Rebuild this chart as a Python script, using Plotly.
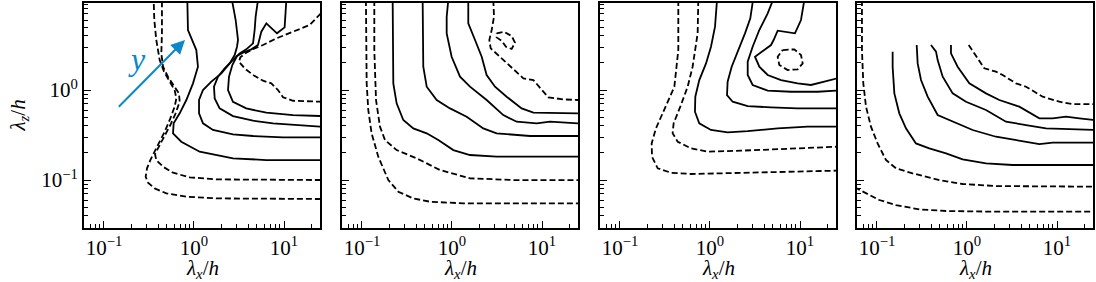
import numpy as np
import plotly.graph_objects as go

# ---------------- data: contour lines, log10(lambda_x/h), log10(lambda_z/h) ----------------
# Panel 1
p1_d1_lx = [1.41, 0.804, 0.248, -0.085, -0.307, -0.437, -0.511, -0.537, -0.522, -0.485, -0.448, -0.389, -0.326, -0.263, -0.215, -0.196, -0.215, -0.270, -0.333, -0.381, -0.419, -0.441, -0.448]
p1_d1_lz = [-1.211, -1.211, -1.204, -1.185, -1.148, -1.093, -1.030, -0.963, -0.870, -0.778, -0.704, -0.593, -0.463, -0.315, -0.185, -0.093, 0.0, 0.093, 0.204, 0.333, 0.556, 0.778, 1.0]
p1_d2_lx = [1.41, 0.804, 0.248, -0.048, -0.233, -0.344, -0.419, -0.433, -0.389, -0.326, -0.263, -0.204, -0.159, -0.167, -0.226, -0.289, -0.344, -0.363, -0.356, -0.356]
p1_d2_lz = [-1.0, -1.0, -0.993, -0.970, -0.919, -0.852, -0.778, -0.711, -0.630, -0.519, -0.389, -0.259, -0.130, -0.037, 0.056, 0.148, 0.259, 0.407, 0.630, 1.0]
p1_s1_lx = [-0.074, -0.067, 0.026, 0.044, -0.011, -0.085, -0.159, -0.226, -0.233, -0.141, 0.063, 0.433, 0.804, 1.41]
p1_s1_lz = [1.0, 0.667, 0.444, 0.259, 0.074, -0.111, -0.259, -0.370, -0.481, -0.574, -0.685, -0.759, -0.778, -0.778]
p1_s2_lx = [1.41, 0.989, 0.656, 0.433, 0.211, 0.100, 0.056, 0.056, 0.100, 0.193, 0.304, 0.396, 0.452, 0.478, 0.489, 0.463, 0.422]
p1_s2_lz = [-0.526, -0.526, -0.511, -0.493, -0.444, -0.370, -0.259, -0.111, 0.0, 0.093, 0.185, 0.296, 0.389, 0.481, 0.556, 0.778, 1.0]
p1_s3_lx = [1.41, 1.174, 0.878, 0.656, 0.433, 0.285, 0.230, 0.222, 0.267, 0.341, 0.433, 0.507, 0.581, 0.656, 0.674, 0.685, 0.711]
p1_s3_lz = [-0.407, -0.393, -0.370, -0.341, -0.289, -0.204, -0.093, 0.037, 0.148, 0.241, 0.333, 0.407, 0.452, 0.519, 0.667, 0.815, 1.0]
p1_s4_lx = [1.41, 1.1, 0.804, 0.581, 0.433, 0.378, 0.389, 0.426, 0.478, 0.544, 0.637, 0.711, 0.748, 0.804, 0.922, 1.007, 1.026]
p1_s4_lz = [-0.289, -0.278, -0.252, -0.204, -0.130, 0.0, 0.148, 0.278, 0.378, 0.415, 0.452, 0.5, 0.648, 0.741, 0.630, 0.696, 1.0]
p1_d3_lx = [1.41, 1.285, 1.1, 0.915, 0.767, 0.674, 0.581, 0.515, 0.5, 0.563, 0.656, 0.767, 0.859, 0.933, 0.989, 1.1, 1.41]
p1_d3_lz = [0.852, 0.722, 0.648, 0.574, 0.5, 0.463, 0.415, 0.363, 0.315, 0.241, 0.167, 0.104, 0.074, 0.0, -0.081, -0.119, -0.130]

# Panel 2
p2_d1_lx = [-0.956, -0.956, -0.948, -0.930, -0.893, -0.819, -0.707, -0.596, -0.430, -0.244, 0.126, 0.867, 1.41]
p2_d1_lz = [1.0, 0.630, 0.074, -0.222, -0.481, -0.741, -1.0, -1.130, -1.204, -1.241, -1.259, -1.259, -1.259]
p2_d2_lx = [-0.863, -0.863, -0.844, -0.8, -0.744, -0.615, -0.393, -0.133, 0.2, 0.681, 1.41]
p2_d2_lz = [1.0, 0.444, -0.111, -0.407, -0.556, -0.667, -0.759, -0.889, -0.981, -1.0, -1.0]
p2_s1_lx = [-0.659, -0.659, -0.652, -0.615, -0.541, -0.430, -0.281, -0.152, 0.015, 0.2, 0.496, 1.41]
p2_s1_lz = [1.0, 0.630, 0.074, -0.148, -0.333, -0.426, -0.481, -0.556, -0.667, -0.722, -0.741, -0.741]
p2_s2_lx = [-0.326, -0.326, -0.319, -0.281, -0.170, -0.022, 0.163, 0.348, 0.496, 0.867, 1.41]
p2_s2_lz = [1.0, 0.630, 0.259, 0.037, -0.111, -0.204, -0.296, -0.426, -0.481, -0.511, -0.511]
p2_s3_lx = [-0.041, -0.059, -0.059, -0.004, 0.089, 0.2, 0.385, 0.570, 0.719, 0.941, 1.089, 1.41]
p2_s3_lz = [1.0, 0.815, 0.630, 0.370, 0.148, 0.037, -0.111, -0.278, -0.352, -0.370, -0.352, -0.370]
p2_s4_lx = [0.181, 0.181, 0.256, 0.330, 0.385, 0.478, 0.607, 0.774, 0.904, 1.41]
p2_s4_lz = [1.0, 0.741, 0.556, 0.370, 0.167, 0.037, -0.074, -0.204, -0.252, -0.259]
p2_d3_lx = [0.459, 0.467, 0.441, 0.415, 0.430, 0.552, 0.663, 0.793, 0.904, 0.978, 1.070, 1.237, 1.41]
p2_d3_lz = [1.0, 0.815, 0.667, 0.556, 0.463, 0.352, 0.259, 0.130, 0.111, 0.030, -0.081, -0.104, -0.111]
p2_d4_lx = [0.496, 0.578, 0.663, 0.7, 0.663, 0.6, 0.552, 0.496, 0.496]
p2_d4_lz = [0.630, 0.648, 0.6, 0.526, 0.456, 0.481, 0.548, 0.585, 0.630]

# Panel 3
p3_d1_lx = [-0.352, -0.352, -0.396, -0.507, -0.6, -0.648, -0.644, -0.581, -0.433, -0.211, 0.159, 1.41]
p3_d1_lz = [1.0, 0.444, 0.037, -0.222, -0.426, -0.593, -0.741, -0.870, -0.919, -0.933, -0.926, -0.896]
p3_d2_lx = [-0.130, -0.137, -0.193, -0.248, -0.330, -0.404, -0.415, -0.359, -0.211, -0.026, 0.344, 0.9, 1.41]
p3_d2_lz = [1.0, 0.630, 0.259, 0.037, -0.185, -0.370, -0.481, -0.574, -0.648, -0.685, -0.674, -0.648, -0.630]
p3_s1_lx = [0.078, 0.056, 0.011, -0.044, -0.119, -0.163, -0.167, -0.119, 0.011, 0.196, 0.419, 0.752, 1.085, 1.41]
p3_s1_lz = [1.0, 0.704, 0.481, 0.296, 0.111, -0.074, -0.241, -0.370, -0.444, -0.470, -0.456, -0.426, -0.407, -0.407]
p3_s2_lx = [0.478, 0.448, 0.389, 0.315, 0.241, 0.196, 0.189, 0.252, 0.419, 0.678, 0.974, 1.41]
p3_s2_lz = [1.0, 0.796, 0.630, 0.444, 0.259, 0.093, -0.056, -0.130, -0.178, -0.193, -0.204, -0.204]
p3_s3_lx = [0.7, 0.641, 0.548, 0.474, 0.419, 0.419, 0.474, 0.641, 0.9, 1.196, 1.41]
p3_s3_lz = [1.0, 0.852, 0.667, 0.481, 0.315, 0.167, 0.056, -0.007, -0.019, -0.019, -0.007]
p3_s4_lx = [1.048, 1.011, 0.944, 0.752, 0.707, 0.678, 0.5, 0.548, 0.641, 0.789, 0.974, 1.122, 1.270, 1.41]
p3_s4_lz = [1.0, 0.778, 0.630, 0.659, 0.556, 0.5, 0.370, 0.259, 0.167, 0.111, 0.074, 0.056, 0.093, 0.130]
p3_d3_lx = [0.807, 0.937, 1.011, 1.030, 0.974, 0.863, 0.770, 0.752, 0.807]
p3_d3_lz = [0.444, 0.452, 0.389, 0.296, 0.230, 0.222, 0.278, 0.370, 0.444]

# Panel 4
p4_d1_lx = [-1.25, -1.122, -0.974, -0.789, -0.530, -0.233, 0.322, 1.41]
p4_d1_lz = [-1.08, -1.148, -1.222, -1.278, -1.326, -1.344, -1.352, -1.352]
p4_d2_lx = [-1.167, -1.167, -1.152, -1.122, -1.067, -0.993, -0.9, -0.789, -0.604, -0.307, -0.048, 0.322, 1.41]
p4_d2_lz = [1.0, 0.444, 0.074, -0.185, -0.407, -0.593, -0.778, -0.870, -0.926, -1.0, -1.044, -1.067, -1.074]
p4_s1_lx = [-0.826, -0.826, -0.807, -0.752, -0.678, -0.567, -0.419, -0.233, -0.048, 0.211, 0.507, 1.41]
p4_s1_lz = [0.426, 0.259, -0.037, -0.259, -0.426, -0.593, -0.648, -0.704, -0.770, -0.815, -0.833, -0.833]
p4_s2_lx = [-0.559, -0.548, -0.511, -0.437, -0.326, -0.159, 0.063, 0.322, 0.619, 0.804, 0.952, 1.41]
p4_s2_lz = [0.5, 0.296, 0.111, -0.074, -0.278, -0.352, -0.444, -0.519, -0.574, -0.6, -0.585, -0.585]
p4_s3_lx = [-0.4, -0.344, -0.326, -0.270, -0.159, -0.011, 0.211, 0.433, 0.656, 0.878, 1.41]
p4_s3_lz = [0.5, 0.426, 0.333, 0.148, -0.037, -0.130, -0.222, -0.352, -0.389, -0.426, -0.444]
p4_s4_lx = [-0.178, -0.178, -0.104, 0.026, 0.211, 0.359, 0.581, 0.804, 0.952, 1.1, 1.248, 1.41]
p4_s4_lz = [0.5, 0.407, 0.259, 0.074, -0.037, -0.111, -0.185, -0.315, -0.315, -0.296, -0.315, -0.333]
p4_d3_lx = [0.019, 0.081, 0.156, 0.193, 0.322, 0.396, 0.544, 0.656, 0.841, 1.026, 1.174, 1.41]
p4_d3_lz = [0.5, 0.407, 0.296, 0.241, 0.204, 0.167, 0.074, 0.037, -0.074, -0.130, -0.156, -0.156]

# tick values
major_vals = [0.1, 1, 10]
major_text = ["10<sup>−1</sup>", "10<sup>0</sup>", "10<sup>1</sup>"]
minor_x = [0.07, 0.08, 0.09, 0.2, 0.3, 0.4, 0.5, 0.6, 0.7, 0.8, 0.9,
           2, 3, 4, 5, 6, 7, 8, 9, 20]
minor_y = [0.03, 0.04, 0.05, 0.06, 0.07, 0.08, 0.09, 0.2, 0.3, 0.4, 0.5,
           0.6, 0.7, 0.8, 0.9, 2, 3, 4, 5, 6, 7, 8, 9]
x_title = "<i>λ</i><sub><i>x</i></sub>/<i>h</i>"
y_title = "<i>λ</i><sub><i>z</i></sub>/<i>h</i>"

panels = [
    [(p1_d1_lx, p1_d1_lz, True), (p1_d2_lx, p1_d2_lz, True), (p1_s1_lx, p1_s1_lz, False),
     (p1_s2_lx, p1_s2_lz, False), (p1_s3_lx, p1_s3_lz, False), (p1_s4_lx, p1_s4_lz, False),
     (p1_d3_lx, p1_d3_lz, True)],
    [(p2_d1_lx, p2_d1_lz, True), (p2_d2_lx, p2_d2_lz, True), (p2_s1_lx, p2_s1_lz, False),
     (p2_s2_lx, p2_s2_lz, False), (p2_s3_lx, p2_s3_lz, False), (p2_s4_lx, p2_s4_lz, False),
     (p2_d3_lx, p2_d3_lz, True), (p2_d4_lx, p2_d4_lz, True)],
    [(p3_d1_lx, p3_d1_lz, True), (p3_d2_lx, p3_d2_lz, True), (p3_s1_lx, p3_s1_lz, False),
     (p3_s2_lx, p3_s2_lz, False), (p3_s3_lx, p3_s3_lz, False), (p3_s4_lx, p3_s4_lz, False),
     (p3_d3_lx, p3_d3_lz, True)],
    [(p4_d1_lx, p4_d1_lz, True), (p4_d2_lx, p4_d2_lz, True), (p4_s1_lx, p4_s1_lz, False),
     (p4_s2_lx, p4_s2_lz, False), (p4_s3_lx, p4_s3_lz, False), (p4_s4_lx, p4_s4_lz, False),
     (p4_d3_lx, p4_d3_lz, True)],
]

FONT = "Liberation Serif"
TICKFONT = dict(family=FONT, size=21, color="black")
TITLEFONT = dict(family=FONT, size=21, color="black")
fig = go.Figure()

W = 1009.0
lefts = [0, 258, 516, 773]
pw = 236

layout_axes = {}
for i, conts in enumerate(panels):
    xa = "x" if i == 0 else f"x{i+1}"
    ya = "y" if i == 0 else f"y{i+1}"
    for lx, lz, dashed in conts:
        fig.add_trace(go.Scatter(
            x=10 ** np.array(lx), y=10 ** np.array(lz), mode="lines",
            line=dict(color="black", width=1.8, dash="6px,3px" if dashed else "solid"),
            xaxis=xa, yaxis=ya, showlegend=False, hoverinfo="skip"))
    kx = "xaxis" if i == 0 else f"xaxis{i+1}"
    ky = "yaxis" if i == 0 else f"yaxis{i+1}"
    dom = [lefts[i] / W, (lefts[i] + pw) / W]
    layout_axes[kx] = dict(
        type="log", range=[-1.222, 1.40], domain=dom, anchor=ya, automargin=False,
        showline=True, linecolor="black", linewidth=2, mirror=True,
        showgrid=False, zeroline=False,
        ticks="inside", ticklen=7, tickwidth=1.2, tickcolor="black",
        tickmode="array", tickvals=major_vals, ticktext=major_text,
        tickfont=TICKFONT,
        minor=dict(ticks="inside", ticklen=4, tickwidth=1, tickcolor="black",
                   tickmode="array", tickvals=minor_x, showgrid=False),
    )
    layout_axes[ky] = dict(
        type="log", range=[-1.533, 0.967], domain=[0, 1], anchor=xa, automargin=False,
        showline=True, linecolor="black", linewidth=2, mirror=True,
        showgrid=False, zeroline=False,
        ticks="inside", ticklen=7, tickwidth=1.2, tickcolor="black",
        tickmode="array", tickvals=major_vals, ticktext=major_text,
        showticklabels=(i == 0),
        tickfont=TICKFONT,
        minor=dict(ticks="inside", ticklen=4, tickwidth=1, tickcolor="black",
                   tickmode="array", tickvals=minor_y, showgrid=False),
    )
    fig.add_annotation(x=(lefts[i] + pw / 2) / W, y=-0.183, xref="paper", yref="paper",
                       text=x_title, showarrow=False, xanchor="center", yanchor="middle",
                       font=TITLEFONT)

fig.add_annotation(x=-66 / W, y=0.5, xref="paper", yref="paper", text=y_title,
                   showarrow=False, textangle=-90, xanchor="center", yanchor="middle",
                   font=TITLEFONT)

BLUE = "#0a88c8"
fig.update_layout(
    width=1096, height=282, margin=dict(l=84, r=3, t=2.5, b=54, autoexpand=False),
    paper_bgcolor="white", plot_bgcolor="white",
    font=dict(family=FONT, size=21, color="black"),
    **layout_axes,
)
fig.add_annotation(x=-0.1, y=0.556, ax=-0.852, ay=-0.203, xref="x", yref="y",
                   axref="x", ayref="y", showarrow=True, arrowhead=2, arrowsize=1.4,
                   arrowwidth=2, arrowcolor=BLUE, text="")
fig.add_annotation(x=-0.633, y=0.35, xref="x", yref="y", showarrow=False,
                   text="<i>y</i>", font=dict(family=FONT, size=32, color=BLUE))
fig.write_html("out.html")
